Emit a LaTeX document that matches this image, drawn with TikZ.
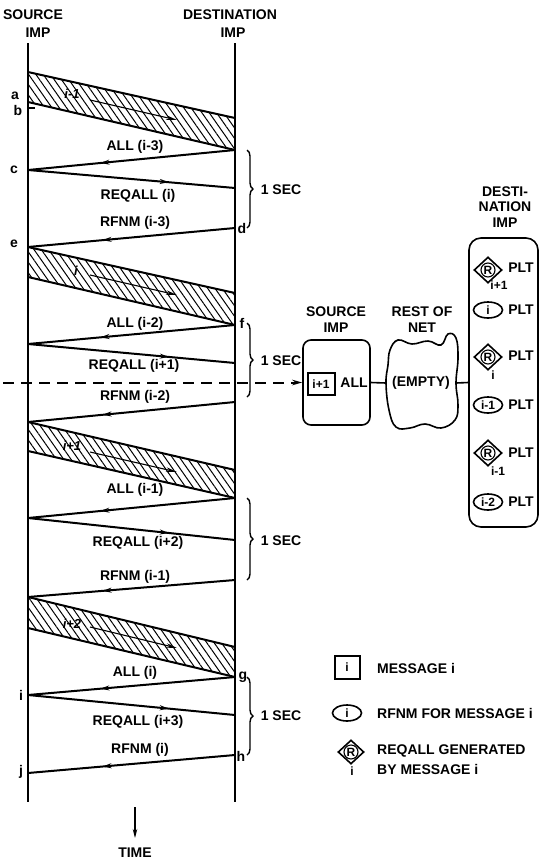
\documentclass[tikz,border=0pt]{standalone}
\usepackage{fontspec}
\setmainfont{Liberation Sans}
\usetikzlibrary{patterns.meta,decorations.markings,decorations.pathreplacing,shapes.geometric,arrows.meta}
\begin{document}
\begin{tikzpicture}[x=1pt,y=-1pt,
  every node/.style={font=\fontsize{14}{16}\selectfont\bfseries, inner sep=0pt},
  small/.style={font=\fontsize{12}{14}\selectfont\bfseries},
  lifeline/.style={line width=1.5pt},
  msg/.style={line width=2pt},
  midarrow/.style={postaction={decorate}, decoration={markings, mark=at position #1 with {\arrow{Stealth[length=9pt,width=5pt]}}}},
  bandfill/.style={pattern={Lines[angle=-55,distance=6pt,line width=1pt]}},
  bandedge/.style={line width=2pt},
  bandarrow/.style={line width=1.1pt,-{Stealth[length=11pt,width=4.5pt]}},
  sec/.style={line width=1.4pt, decorate, decoration={brace, amplitude=6pt}},
  boxline/.style={line width=1.6pt},
  dia/.style={diamond, draw, line width=1.6pt, minimum width=28pt, minimum height=26pt},
  rcirc/.style={circle, draw, line width=1.1pt, minimum size=14pt, small},
  oval/.style={ellipse, draw, line width=1.6pt, minimum width=29pt, minimum height=16pt, small},
  msgbox/.style={draw, line width=2pt, minimum width=27pt, minimum height=22pt, small}
]
\useasboundingbox (0,0) rectangle (540,860);
\fill[white] (0,0) rectangle (540,860);

% headers
\node (hs1) at (33,15) {SOURCE};
\node (hs2) at (38,33) {IMP};
\node (hd1) at (230,15) {DESTINATION};
\node (hd2) at (233,33) {IMP};

% lifelines
\coordinate (stop) at (28,43); \coordinate (sbot) at (28,802);
\coordinate (dtop) at (235,43); \coordinate (dbot) at (235,802);
\draw[lifeline] (stop) -- (sbot);
\draw[lifeline] (dtop) -- (dbot);

% hatched message bands
\foreach \n/\st/\sb/\dt/\db/\lab/\lx/\ly/\ay/\by in {
 1/72/102/118/150/i-1/72/94/100/120,
 2/247/277/293/325/i/76/271/275/295,
 3/422/451/470/498/i+1/72/446/452/472,
 4/597/628/647/677/i+2/72/624/627/648}{
  \coordinate (st\n) at (28,\st);
  \coordinate (sb\n) at (28,\sb);
  \coordinate (dt\n) at (235,\dt);
  \coordinate (db\n) at (235,\db);
  \fill[bandfill] (st\n) -- (dt\n) -- (db\n) -- (sb\n) -- cycle;
  \draw[bandedge] (st\n) -- (dt\n);
  \draw[bandedge] (sb\n) -- (db\n);
  \node[font=\fontsize{13}{15}\selectfont\bfseries\itshape] (bl\n) at (\lx,\ly) {\lab};
  \coordinate (ba\n) at (90,\ay);
  \coordinate (bb\n) at (177,\by);
  \draw[bandarrow] (ba\n) -- (bb\n);
}

% point labels
\node (la) at (15,96) {a};
\node (lb) at (18,110) {b};
\coordinate (tb1) at (28,108); \coordinate (tb2) at (35,108);
\draw[line width=1.2pt] (tb1) -- (tb2);

% source / destination points
\coordinate (c) at (28,170);
\coordinate (r1) at (235,188);
\coordinate (d) at (235,228);
\coordinate (s2) at (28,344);
\coordinate (r2) at (235,363);
\coordinate (q2) at (235,402);
\coordinate (s3) at (28,518);
\coordinate (r3) at (235,540);
\coordinate (q3) at (235,580);
\coordinate (ii) at (28,695);
\coordinate (r4) at (235,715);
\coordinate (h) at (235,755);
\coordinate (j) at (28,773);

% messages
\draw[msg,midarrow=0.65] (db1) -- (c);
\node (m1) at (135,147) {ALL (i-3)};
\draw[msg,midarrow=0.68] (c) -- (r1);
\node (m2) at (138,196) {REQALL (i)};
\draw[msg,midarrow=0.64] (d) -- (st2);
\node (m3) at (135,223) {RFNM (i-3)};

\draw[msg,midarrow=0.65] (db2) -- (s2);
\node (m4) at (135,324) {ALL (i-2)};
\draw[msg,midarrow=0.68] (s2) -- (r2);
\node (m5) at (134,366) {REQALL (i+1)};
\draw[msg,midarrow=0.64] (q2) -- (st3);
\node (m6) at (135,397) {RFNM (i-2)};

\draw[msg,midarrow=0.65] (db3) -- (s3);
\node (m7) at (135,490) {ALL (i-1)};
\draw[msg,midarrow=0.68] (s3) -- (r3);
\node (m8) at (138,543) {REQALL (i+2)};
\draw[msg,midarrow=0.64] (q3) -- (st4);
\node (m9) at (135,577) {RFNM (i-1)};

\draw[msg,midarrow=0.65] (db4) -- (ii);
\node (m10) at (135,673) {ALL (i)};
\draw[msg,midarrow=0.68] (ii) -- (r4);
\node (m11) at (138,722) {REQALL (i+3)};
\draw[msg,midarrow=0.64] (h) -- (j);
\node (m12) at (140,750) {RFNM (i)};

\node (lc) at (14,170) {c};
\node (ld) at (242,228) {d};
\node (le) at (14,244) {e};
\node (lf) at (242,323) {f};
\node (lg) at (243,677) {g};
\node (lh) at (241,756) {h};
\node (li) at (21,695) {i};
\node (lj) at (21,772) {j};

% braces
\foreach \n/\a/\b/\m in {1/150/228/190, 2/323/397/361, 3/498/580/541, 4/677/755/716}{
  \coordinate (bra\n) at (247,\a);
  \coordinate (brb\n) at (247,\b);
  \draw[sec] (bra\n) -- (brb\n);
  \node (sec\n) at (281,\m) {1 SEC};
}

% time arrow
\coordinate (t1) at (135,807); \coordinate (t2) at (135,838);
\draw[line width=1.2pt,-{Stealth[length=9pt,width=4.5pt]}] (t1) -- (t2);
\node (time) at (135,853) {TIME};

% snapshot: source IMP
\node (ss1) at (336,312) {SOURCE};
\node (ss2) at (336,328) {IMP};
\node[draw, boxline, rounded corners=8pt, minimum width=67pt, minimum height=85pt] (simp) at (336.5,382.5) {};
\node[msgbox] (mi1) at (321,384) {i+1};
\node (alln) at (354,383) {ALL};

% dashed arrow
\coordinate (dstart) at (3,382.5);
\draw[line width=2pt, dash pattern=on 11pt off 7pt, -{Stealth[length=10pt,width=5.5pt]}] (dstart) -- (simp.west);

% rest of net cloud
\node (rn1) at (422,312) {REST OF};
\node (rn2) at (422,328) {NET};
\draw[boxline] plot[smooth cycle, tension=0.7] coordinates {
 (390,350) (398,340) (412,344) (428,341) (441,345) (448,334) (456,338)
 (458,358) (456,383) (458,405) (455,420) (441,428) (425,424) (410,428)
 (396,427) (389,410) (386,383) (388,365)};
\coordinate (cloudW) at (386,383);
\coordinate (cloudE) at (456,383);
\node (empty) at (421,383) {(EMPTY)};
\draw[boxline] (simp.east) -- (cloudW);

% destination IMP
\node (dd1) at (505,192) {DESTI-};
\node (dd2) at (505,207) {NATION};
\node (dd3) at (505,223) {IMP};
\node[draw, boxline, rounded corners=12pt, minimum width=69pt, minimum height=289pt] (dimp) at (503.5,382.5) {};
\draw[boxline] (cloudE) -- (dimp.west);

\node[dia] (dR1) at (488,270) {};
\node[rcirc] (cR1) at (dR1) {R};
\node[small] (sR1) at (499,285) {i+1};
\node (p1) at (521,268) {PLT};

\node[oval] (o1) at (488,310) {i};
\node (p2) at (521,310) {PLT};

\node[dia] (dR2) at (488,357) {};
\node[rcirc] (cR2) at (dR2) {R};
\node[small] (sR2) at (493,375) {i};
\node (p3) at (521,356) {PLT};

\node[oval] (o2) at (488,405) {i-1};
\node (p4) at (521,405) {PLT};

\node[dia] (dR3) at (488,453) {};
\node[rcirc] (cR3) at (dR3) {R};
\node[small] (sR3) at (498,471) {i-1};
\node (p5) at (521,453) {PLT};

\node[oval] (o3) at (488,502) {i-2};
\node (p6) at (521,502) {PLT};

% legend
\node[msgbox, minimum width=25pt, minimum height=23pt] (lgm) at (347,667) {i};
\node[anchor=west] (lgm2) at (377,668) {MESSAGE i};
\node[oval] (lgr) at (347,713) {i};
\node[anchor=west] (lgr2) at (377,713) {RFNM FOR MESSAGE i};
\node[dia, minimum width=26pt, minimum height=24pt] (lgd) at (351,752) {};
\node[rcirc] (lgdc) at (lgd) {R};
\node[small] (lgds) at (352,771) {i};
\node[anchor=west] (lgd2) at (377,751) {REQALL GENERATED};
\node[anchor=west] (lgd3) at (377,769) {BY MESSAGE i};
\end{tikzpicture}
\end{document}
